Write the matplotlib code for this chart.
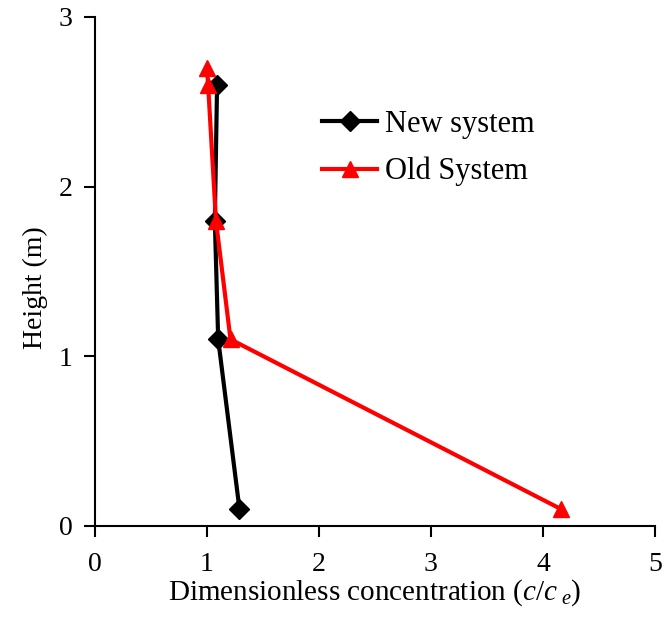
import matplotlib
matplotlib.use("Agg")
import matplotlib.pyplot as plt

# Concentration profiles along height
new_conc = [1.29, 1.10, 1.07, 1.09]
new_height = [0.1, 1.1, 1.8, 2.6]

old_conc = [4.16, 1.21, 1.08, 1.01, 1.00]
old_height = [0.1, 1.1, 1.8, 2.6, 2.7]

x_ticks = [0, 1, 2, 3, 4, 5]
y_ticks = [0, 1, 2, 3]

plt.rcParams["font.family"] = ["Liberation Serif", "DejaVu Serif"]
plt.rcParams["mathtext.fontset"] = "custom"
plt.rcParams["mathtext.rm"] = "Liberation Serif"
plt.rcParams["mathtext.it"] = "Liberation Serif:italic"


def make_plot():
    fig = plt.figure(figsize=(6.69, 6.17), dpi=100)
    ax = fig.add_axes([0.142, 0.1475, 0.837, 0.825])

    ax.plot(new_conc, new_height, color="black", lw=3, marker="D",
            ms=10, label="New system", zorder=3)
    ax.plot(old_conc, old_height, color="#ff0000", lw=3, marker="^",
            ms=11, label="Old System", zorder=4)

    ax.set_xlim(0, 5)
    ax.set_ylim(0, 3)
    ax.set_xticks(x_ticks)
    ax.set_yticks(y_ticks)
    ax.spines["top"].set_visible(False)
    ax.spines["right"].set_visible(False)
    for s in ("left", "bottom"):
        ax.spines[s].set_linewidth(1.5)
    ax.tick_params(direction="out", length=8, width=1.5, labelsize=20)
    ax.tick_params(axis="x", pad=11)
    ax.tick_params(axis="y", pad=8)

    ax.set_xlabel(r"Dimensionless concentration ($c/c_{\ e}$)", fontsize=21,
                  labelpad=0)
    ax.set_ylabel("Height (m)", fontsize=20, labelpad=8)
    ax.yaxis.label.set_y(0.468)

    ax.legend(loc="upper left", bbox_to_anchor=(0.357, 0.872), frameon=False,
              fontsize=22, handlelength=1.8, handletextpad=0.25,
              labelspacing=0.6)

    fig.savefig("out.png", dpi=100)


if __name__ == "__main__":
    make_plot()
